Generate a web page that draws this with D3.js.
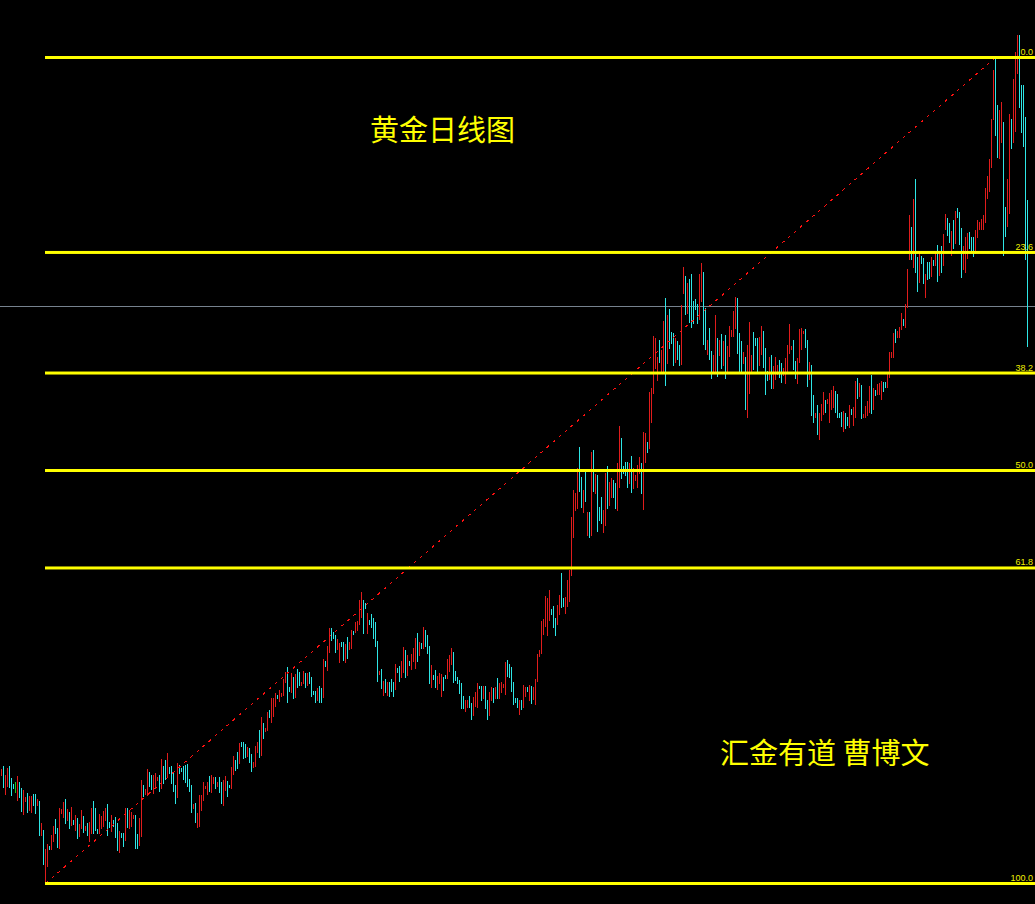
<!DOCTYPE html>
<html>
<head>
<meta charset="utf-8">
<script src="https://cdn.jsdelivr.net/npm/d3@7"></script>
<style>
html,body{margin:0;padding:0;background:#000;}
svg{display:block;}
</style>
</head>
<body>
<svg id="chart" width="1035" height="904"></svg>
<script>
// ---- data (daily bars, price units; 'c' = up bar, 'r' = down bar, 'g' = unchanged) ----
const highs = [
231,234,225,232,234,222,216,218,224,218,212,210,203,207,204,204,206,206,201,199,
177,170,151,156,154,165,174,181,172,192,191,198,201,191,188,193,180,185,182,176,
190,184,174,177,178,192,199,192,171,186,184,189,192,196,178,185,180,183,177,169,
167,167,192,192,190,188,185,185,166,182,220,215,211,231,228,225,225,227,223,225,
241,234,240,247,233,234,228,215,237,235,232,234,235,236,221,215,196,197,187,205,
205,218,214,218,224,225,223,223,218,223,218,220,224,219,215,233,244,240,248,257,
258,258,256,253,252,246,238,254,258,270,283,277,272,288,290,302,302,307,305,310,
307,321,328,333,313,327,323,326,331,328,318,329,327,327,328,323,309,309,312,314,
312,341,339,354,372,372,368,365,361,357,358,358,356,363,358,370,369,378,379,400,
408,400,397,387,380,386,382,378,359,329,331,319,321,318,318,
321,318,336,332,334,
339,353,350,345,339,346,352,362,367,358,357,373,370,365,354,335,325,330,324,327,
326,323,325,341,345,352,348,329,323,320,317,304,300,300,304,297,303,308,317,314,
314,314,314,300,308,313,312,313,322,317,318,316,338,340,336,333,318,302,302,300,
300,315,313,313,315,314,313,321,346,350,379,381,404,402,410,391,394,382,395,405,
427,402,403,420,430,483,510,507,532,553,523,510,528,488,488,548,550,526,525,493,
503,490,527,534,518,522,520,517,537,574,562,534,538,538,537,544,532,525,535,543,
537,568,567,558,608,612,664,662,643,660,650,679,702,685,691,668,667,662,659,655,
695,733,724,717,721,726,699,701,696,726,737,728,692,660,672,649,645,685,662,660,
666,659,665,654,674,670,689,703,702,667,659,648,643,655,678,645,668,662,662,663,
674,669,652,629,643,645,634,643,635,640,637,632,642,655,676,654,660,639,642,671,
672,669,671,660,638,635,605,587,595,587,596,608,600,601,607,610,614,609,606,587,
588,589,587,583,595,591,593,619,622,617,615,586,594,599,614,625,612,610,616,617,
619,618,618,626,648,648,667,671,669,673,
687,681,696,731,785,773,801,821,743,747,744,742,726,738,738,743,740,748,755,748,
754,766,786,782,777,769,780,789,792,788,772,754,763,767,768,763,763,770,780,778,
781,785,812,824,841,881,930,941,895,890,898,878,793,821,886,881,921,948,965,965,
915,915,883,800
];
const lows = [
225,213,206,214,213,205,212,208,200,203,189,186,199,188,190,188,195,187,195,165,
165,136,117,134,151,151,159,167,153,152,187,183,177,180,172,175,176,170,162,164,
172,168,170,165,159,167,167,170,167,167,172,174,180,165,173,169,174,163,150,148,
163,154,160,173,172,174,182,152,152,155,164,204,206,205,214,211,207,214,220,209,
212,217,221,223,227,217,209,197,203,227,229,221,218,214,209,188,192,178,173,174,
190,200,212,206,209,208,217,212,214,208,197,195,210,204,213,212,226,230,232,237,
254,242,243,244,238,229,233,234,248,243,245,262,269,270,283,278,284,294,302,299,
304,305,318,298,309,308,302,303,313,315,315,317,313,315,317,304,306,298,300,298,
298,303,334,330,348,360,362,348,351,338,354,340,338,342,351,352,366,368,370,376,
383,367,392,367,376,373,362,354,319,326,312,305,308,305,304,
309,304,311,328,319,
323,328,323,325,335,331,339,332,339,345,352,352,354,347,317,313,321,313,311,317,
304,310,322,322,329,336,318,320,317,307,292,292,289,293,293,281,285,294,293,312,
300,302,292,281,285,300,298,302,302,302,308,313,306,324,323,309,296,298,293,286,
291,293,304,309,300,297,301,296,319,344,347,366,374,365,380,386,373,365,376,386,
393,394,387,394,399,425,463,490,492,509,493,488,499,465,463,465,509,507,469,480,
477,468,475,492,495,503,503,492,490,513,522,527,525,513,517,508,512,520,513,527,
507,491,538,548,552,578,607,632,620,638,627,628,615,637,652,657,635,638,641,635,
636,707,686,687,678,673,677,691,677,681,699,656,651,646,641,622,629,629,624,645,
632,635,622,629,644,664,664,672,647,629,628,637,591,583,607,629,631,655,628,635,
646,633,606,620,621,612,612,621,626,623,618,625,617,627,647,651,631,622,617,638,
651,667,653,614,621,585,578,583,566,561,580,586,588,597,578,591,593,588,583,583,
574,569,572,575,573,586,575,583,602,604,582,583,583,585,588,587,591,605,606,606,
601,609,613,613,623,643,643,658,663,663,
671,675,673,693,741,741,733,728,709,718,737,717,703,721,722,724,735,735,719,725,
728,735,771,765,758,745,752,757,783,756,723,731,728,742,752,750,744,747,763,771,
771,771,778,802,809,833,881,865,843,842,858,745,764,774,787,852,858,869,927,893,
868,854,741,654
];
const directions = (
"rcrrcccgrc"+"crrcrrccrc"+"rcrrcrrccr"+"rrcrcrcrcr"+"rcrcrrcccr"+
"rrrccrcccr"+"ccrcrrrccr"+"rcrrccrrrc"+"rccrccccrc"+"ccccccrcrr"+
"rrrrcrrcrc"+"crrccrrccr"+"cccrccrrrc"+"rcrrcrrrcr"+"rrrccrcrcc"+
"rrcrccccrc"+"crcrrcccrr"+"ccrcrrcrrr"+"rccrcccccr"+"crcrc"+
"ccrcc"+"rrcrcrrrcr"+"crcccrccrr"+"rccrrrcccc"+"ccrrccrrrc"+
"crccrrcrcr"+"rrrccccccr"+"crrcrcrrrr"+"rrrrrcccrr"+
"ccrrrrrrrc"+"crcrcrcrcc"+"crrcrrccrr"+"ccccrcrrrr"+"crrcrrrrrc"+"rrcrcccrcc"+
"rrcrcccccr"+"rccrccrrcr"+"crcrrrrrcc"+"crcrrrcccr"+"rcccrcrrrc"+"crrrrrccrr"+
"rrccrccrcr"+"rrcrrrrccc"+"crccrcrrcr"+"crrrrcrcrr"+"rccrrrrcrr"+
"rcrrrcrccr"+"ccrccrcrcr"+"crrccrcrcc"+"crrrcccrrr"+"rrrrrrrccr"+"rccrrcrrrc"+"cccc"
).split("");

// Fibonacci retracement anchors (bar index, price) and levels
const fibLowBar = 22, fibLowPrice = 117;
const fibHighBar = 497, fibHighPrice = 943;
const fibLevels = [0, 23.6, 38.2, 50, 61.8, 100];
const fibLabels = ["0.0", "23.6", "38.2", "50.0", "61.8", "100.0"];
const hLinePrice = 694;
const titleText = "黄金日线图";
const authorText = "汇金有道 曹博文";

// ---- drawing ----
const W = 1035, H = 904;
const N = highs.length;
const svg = d3.select("#chart");
svg.append("rect").attr("width", W).attr("height", H).attr("fill", "#000");

const x = d3.scaleLinear().domain([0, N - 1]).range([1, 1 + 2 * (N - 1)]);
const y = d3.scaleLinear().domain([fibLowPrice, fibHighPrice]).range([883.5, 57.5]);

const colors = { c: "#2ee6e6", r: "#e01c1c", g: "#18c818" };

// horizontal price line
svg.append("rect")
  .attr("x", 0).attr("width", W)
  .attr("y", y(hLinePrice) - 0.5).attr("height", 1)
  .attr("fill", "#76828e");

// bars
const bars = highs.map((h, i) => ({ i, h, l: lows[i], d: directions[i] }));
svg.append("g").selectAll("rect").data(bars).join("rect")
  .attr("x", d => x(d.i))
  .attr("width", 1)
  .attr("y", d => y(d.h) - 0.5)
  .attr("height", d => y(d.l) - y(d.h) + 1)
  .attr("fill", d => colors[d.d])
  .attr("shape-rendering", "crispEdges");

// fib trend line (dotted)
svg.append("line")
  .attr("x1", x(fibLowBar) + 0.5).attr("y1", y(fibLowPrice))
  .attr("x2", x(fibHighBar) + 0.5).attr("y2", y(fibHighPrice))
  .attr("stroke", "#ff1010").attr("stroke-width", 1)
  .attr("stroke-dasharray", "3,5")
  .attr("shape-rendering", "crispEdges");

// fib levels
const levelPrice = r => fibHighPrice - r / 100 * (fibHighPrice - fibLowPrice);
const lv = svg.append("g");
lv.selectAll("rect").data(fibLevels).join("rect")
  .attr("x", x(fibLowBar))
  .attr("width", W - x(fibLowBar))
  .attr("y", r => y(levelPrice(r)) - 1.5)
  .attr("height", 3)
  .attr("fill", "#ffff00");
lv.selectAll("text").data(fibLevels).join("text")
  .attr("x", 1033)
  .attr("y", r => y(levelPrice(r)) - 2.5)
  .attr("text-anchor", "end")
  .attr("font-family", "'Liberation Sans', Arial, sans-serif")
  .attr("font-size", 9)
  .attr("fill", "#f0f000")
  .text((r, i) => fibLabels[i]);

// captions
svg.append("text")
  .attr("x", 370).attr("y", 141)
  .attr("font-family", "'Noto Sans CJK SC', sans-serif")
  .attr("font-size", 29)
  .attr("fill", "#ffff00")
  .text(titleText);
svg.append("text")
  .attr("x", 720).attr("y", 764)
  .attr("font-family", "'Noto Sans CJK SC', sans-serif")
  .attr("font-size", 29)
  .attr("fill", "#ffff00")
  .text(authorText);
</script>
</body>
</html>
